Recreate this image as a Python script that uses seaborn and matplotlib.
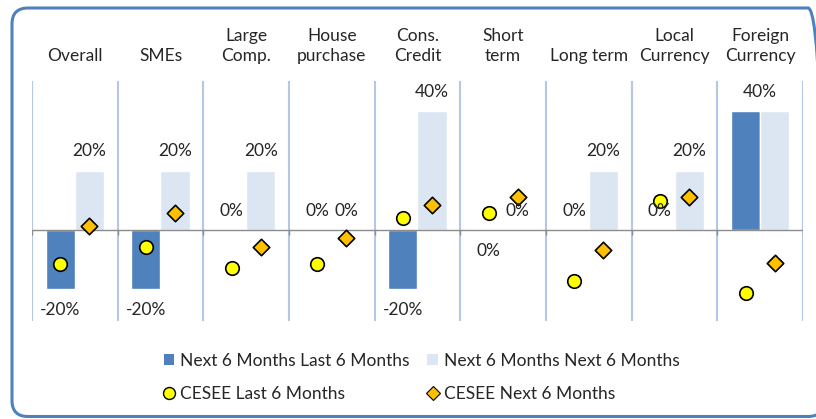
import numpy as np
import pandas as pd
import seaborn as sns
import matplotlib.pyplot as plt
from matplotlib.patches import FancyBboxPatch, Patch
from matplotlib.lines import Line2D
from matplotlib.transforms import IdentityTransform

categories = ["Overall", "SMEs", "Large\nComp.", "House\npurchase", "Cons.\nCredit",
              "Short\nterm", "Long term", "Local\nCurrency", "Foreign\nCurrency"]
# bars (%), short term "last" is a tiny negative shown as 0%
last_6m = [-20, -20, 0, 0, -20, -0.2, 0, 0, 40]
next_6m = [20, 20, 20, 0, 40, 0, 20, 20, 40]
# CESEE markers (%)
cesee_last = [-11.4, -5.7, -12.7, -11.4, 4.0, 5.6, -17.1, 9.7, -21.3]
cesee_next = [1.3, 5.8, -5.7, -2.8, 8.4, 11.2, -6.7, 11.2, -11.2]

series_names = ["Next 6 Months Last 6 Months", "Next 6 Months Next 6 Months"]
dark, light = "#4F81BD", "#DCE6F2"
yellow, orange = "#FFFF00", "#FFC000"
txt = "#262626"

sns.set_theme(style="white")
plt.rcParams["font.family"] = ["Lato", "DejaVu Sans"]
fs = 12.5

df = pd.DataFrame({
    "cat": categories * 2,
    "series": [series_names[0]] * len(categories) + [series_names[1]] * len(categories),
    "value": last_6m + next_6m,
})

fig = plt.figure(figsize=(8.16, 4.19), dpi=100)
ax = fig.add_axes([32 / 816, 1 - 321 / 419, (803 - 32) / 816, (321 - 81) / 419])

sns.barplot(data=df, x="cat", y="value", hue="series", order=categories,
            hue_order=series_names, palette=[dark, light], width=0.68,
            saturation=1, legend=False, ax=ax, zorder=2)

n = len(categories)
pos = np.arange(n)
off = 0.68 / 4
sns.scatterplot(x=pos - off, y=cesee_last, marker="o", s=95, color=yellow,
                edgecolor="black", linewidth=1.2, ax=ax, zorder=5, legend=False)
sns.scatterplot(x=pos + off, y=cesee_next, marker="D", s=70, color=orange,
                edgecolor="black", linewidth=1.2, ax=ax, zorder=5, legend=False)


def put_label(xc, v):
    dy = -15 if v < 0 else 14
    ax.annotate(f"{round(v):.0f}%", (xc, v), xytext=(0, dy), textcoords="offset points",
                ha="center", va="center", fontsize=fs, color=txt, zorder=6)


# data labels (one shared label when both bars are equal and non-zero)
c_last, c_next = ax.containers[0], ax.containers[1]
for i in range(n):
    a, b = last_6m[i], next_6m[i]
    if a == b and a != 0:
        put_label(pos[i], a)
        continue
    for bar in (c_last[i], c_next[i]):
        put_label(bar.get_x() + bar.get_width() / 2, bar.get_height())

# panel separators and zero line
seps = np.arange(-0.5, n)
for p in seps:
    ax.axvline(p, color="#B4C7E7", lw=1.5, zorder=0)
ax.vlines(seps, -1.7, 0, color="#8C8C8C", lw=1, zorder=3)
ax.axhline(0, color="#8C8C8C", lw=1, zorder=3)

ax.set_xlim(-0.5, n - 0.5)
ax.set_ylim(-30.6, 50.1)
ax.set_yticks([])
ax.set_xlabel("")
ax.set_ylabel("")
for s in ax.spines.values():
    s.set_visible(False)

ax.set_xticks(pos)
ax.set_xticklabels(categories)
ax.xaxis.tick_top()
ax.tick_params(axis="x", length=0, pad=12, labelsize=fs, labelcolor=txt)
for lab in ax.get_xticklabels():
    lab.set_linespacing(1.35)

handles = [
    Patch(facecolor=dark, edgecolor="none"),
    Line2D([], [], marker="o", linestyle="none", markersize=8.6,
           markerfacecolor=yellow, markeredgecolor="black", markeredgewidth=1),
    Patch(facecolor=light, edgecolor="none"),
    Line2D([], [], marker="D", linestyle="none", markersize=6.8,
           markerfacecolor=orange, markeredgecolor="black", markeredgewidth=0.8),
]
labels = [series_names[0], "CESEE Last 6 Months", series_names[1], "CESEE Next 6 Months"]
fig.legend(handles, labels, ncol=2, loc="center left",
           bbox_to_anchor=(164 / 816, 1 - 377.5 / 419), frameon=False,
           fontsize=fs, labelcolor=txt, handlelength=0.6, handleheight=0.6,
           handletextpad=0.35, columnspacing=1.0, labelspacing=0.98,
           borderpad=0, borderaxespad=0)

frame = FancyBboxPatch((12, 2.5), 812, 408.5, boxstyle="round,pad=0,rounding_size=16",
                       transform=IdentityTransform(), fill=False,
                       edgecolor="#4F81BD", lw=2.2)
fig.add_artist(frame)

fig.savefig("out.png", dpi=100)
